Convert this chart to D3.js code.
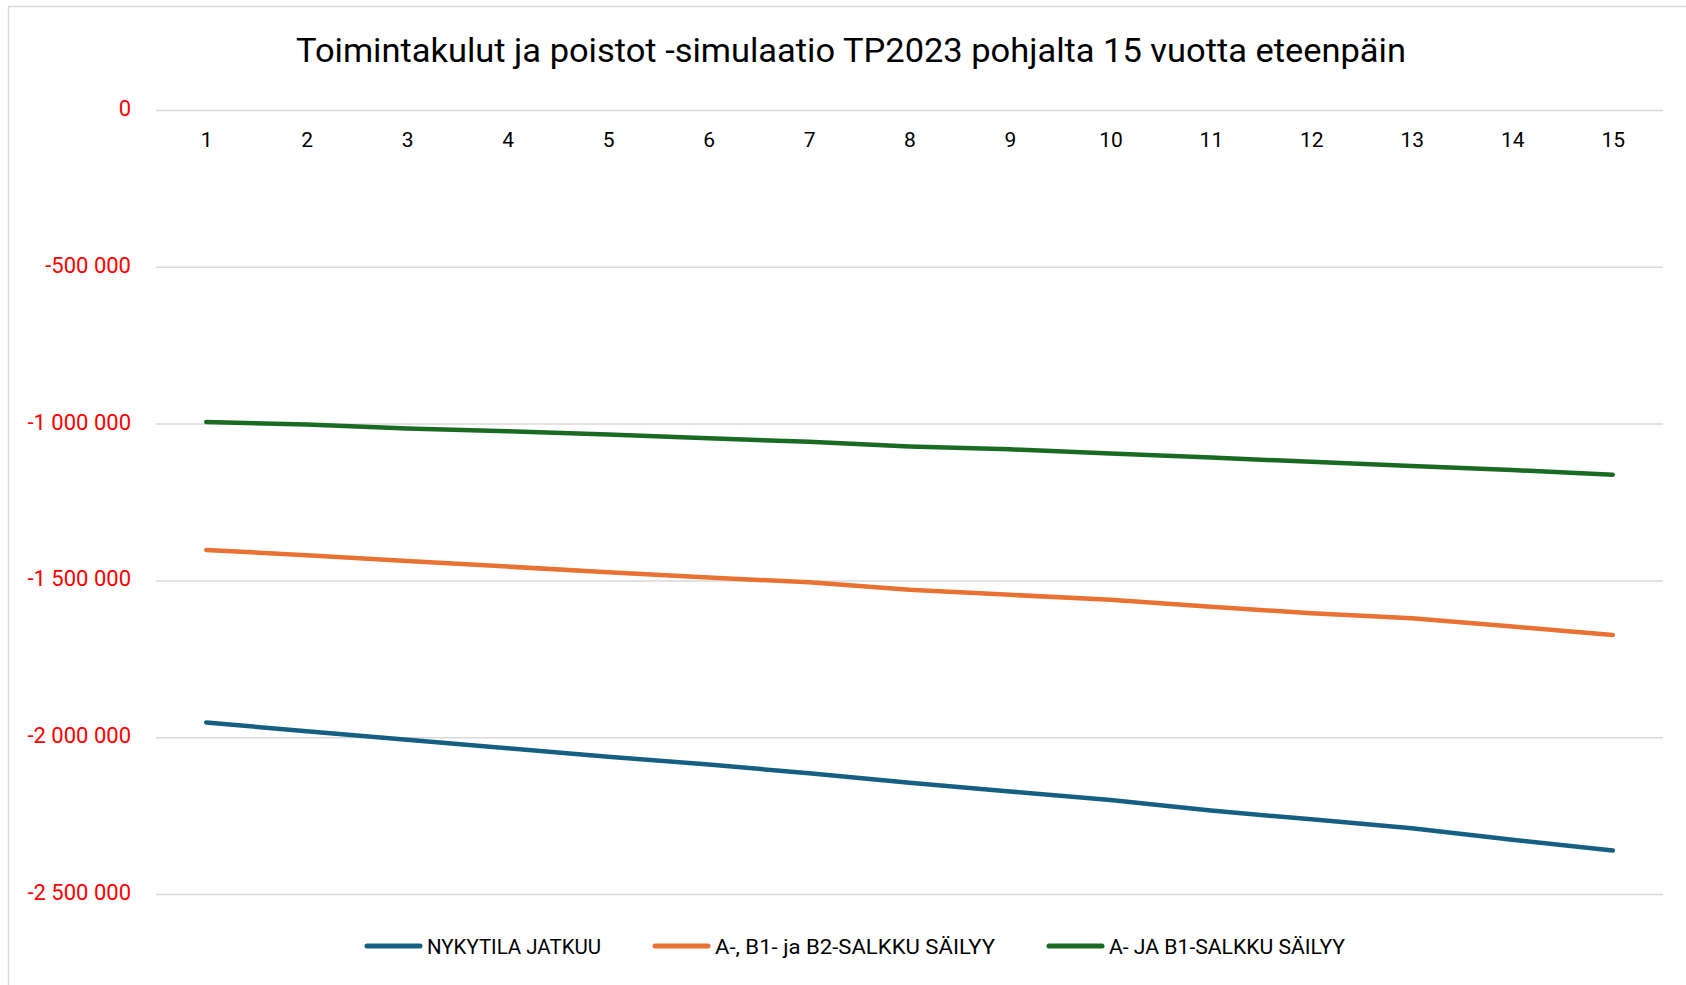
<!DOCTYPE html>
<html>
<head>
<meta charset="utf-8">
<script src="https://cdn.jsdelivr.net/npm/d3@7"></script>
<style>
  body { margin: 0; background: #fff; }
  .chart text { font-family: Roboto, "Noto Sans", sans-serif; }
  .y-axis text { fill: #ff0000; font-size: 22px; }
  .x-axis text { fill: #000; font-size: 21px; }
  .grid line { stroke: #d9d9d9; stroke-width: 1.5; }
  .title { font-size: 33px; fill: #000; }
  .legend-text { font-size: 21px; fill: #000; }
</style>
</head>
<body>
<div class="chart"></div>
<script>
const years = [1, 2, 3, 4, 5, 6, 7, 8, 9, 10, 11, 12, 13, 14, 15];

const nykytila = [-1953000, -1981000, -2008000, -2035000, -2062000, -2087000, -2115000, -2145000,
                  -2173000, -2200000, -2234000, -2262000, -2290000, -2327000, -2361000];
const salkkuAB1B2 = [-1403000, -1420000, -1438000, -1456000, -1474000, -1491000, -1506000, -1530000,
                     -1546000, -1562000, -1584000, -1605000, -1621000, -1647000, -1674000];
const salkkuAB1 = [-995000, -1003000, -1016000, -1024000, -1035000, -1047000, -1058000, -1073000,
                   -1082000, -1095000, -1108000, -1122000, -1135000, -1148000, -1163000];

const seriesNames = ["NYKYTILA JATKUU", "A-, B1- ja B2-SALKKU SÄILYY", "A- JA B1-SALKKU SÄILYY"];
const seriesColors = ["#156082", "#e97132", "#196b24"];
const yTicks = [0, -500000, -1000000, -1500000, -2000000, -2500000];

const titleText = "Toimintakulut ja poistot -simulaatio TP2023 pohjalta 15 vuotta eteenpäin";

const W = 1686, H = 985;
const margin = {top: 110, right: 23, bottom: 91, left: 156};
const width = W - margin.left - margin.right;
const height = H - margin.top - margin.bottom;

const svg = d3.select(".chart")
  .append("svg")
    .attr("width", W)
    .attr("height", H);

// chart frame (only left and top edges fall inside the picture)
svg.append("rect")
  .attr("x", 8.5).attr("y", 6.5)
  .attr("width", W + 20).attr("height", H + 20)
  .attr("fill", "none")
  .attr("stroke", "#d9d9d9")
  .attr("stroke-width", 1.5);

svg.append("text")
  .attr("class", "title")
  .attr("x", 851)
  .attr("y", 62)
  .attr("text-anchor", "middle")
  .attr("textLength", 1110)
  .attr("lengthAdjust", "spacingAndGlyphs")
  .text(titleText);

const g = svg.append("g")
  .attr("transform", "translate(" + margin.left + "," + margin.top + ")");

const x = d3.scalePoint()
  .domain(years)
  .range([0, width])
  .padding(0.5);

const y = d3.scaleLinear()
  .domain([-2500000, 0])
  .range([height, 0]);

const fi = d3.formatLocale({decimal: ",", thousands: "\u00a0", grouping: [3], currency: ["", ""], minus: "-"});
const fmt = fi.format(",.0f");

// gridlines
g.append("g")
  .attr("class", "grid")
  .call(d3.axisLeft(y).tickValues(yTicks).tickSize(-width).tickFormat(""))
  .call(a => a.select(".domain").remove());

// y labels
g.append("g")
  .attr("class", "y-axis")
  .call(d3.axisLeft(y).tickValues(yTicks).tickSize(0).tickPadding(25).tickFormat(fmt))
  .call(a => a.select(".domain").remove())
  .call(a => a.selectAll("text").attr("dy", "0.25em"));

// x labels sit just under the zero line
g.append("g")
  .attr("class", "x-axis")
  .attr("transform", "translate(0," + y(0) + ")")
  .call(d3.axisBottom(x).tickSize(0).tickPadding(22))
  .call(a => a.select(".domain").remove());

const series = [nykytila, salkkuAB1B2, salkkuAB1];

const line = d3.line()
  .x((d, i) => x(years[i]))
  .y(d => y(d));

g.selectAll(".series")
  .data(series)
  .enter()
  .append("path")
    .attr("class", "series")
    .attr("fill", "none")
    .attr("stroke", (d, i) => seriesColors[i])
    .attr("stroke-width", 4.5)
    .attr("stroke-linecap", "round")
    .attr("stroke-linejoin", "round")
    .attr("d", line);

// legend
const legendWidths = [174, 280, 236];
const legend = svg.append("g")
  .attr("transform", "translate(365, 946)");

let lx = 0;
seriesNames.forEach((name, i) => {
  legend.append("line")
    .attr("x1", lx + 2).attr("x2", lx + 55)
    .attr("y1", 0).attr("y2", 0)
    .attr("stroke", seriesColors[i])
    .attr("stroke-width", 5)
    .attr("stroke-linecap", "round");
  legend.append("text")
    .attr("class", "legend-text")
    .attr("x", lx + 62)
    .attr("y", 8)
    .attr("textLength", legendWidths[i])
    .attr("lengthAdjust", "spacingAndGlyphs")
    .text(name);
  lx += 62 + legendWidths[i] + 52;
});
</script>
</body>
</html>
